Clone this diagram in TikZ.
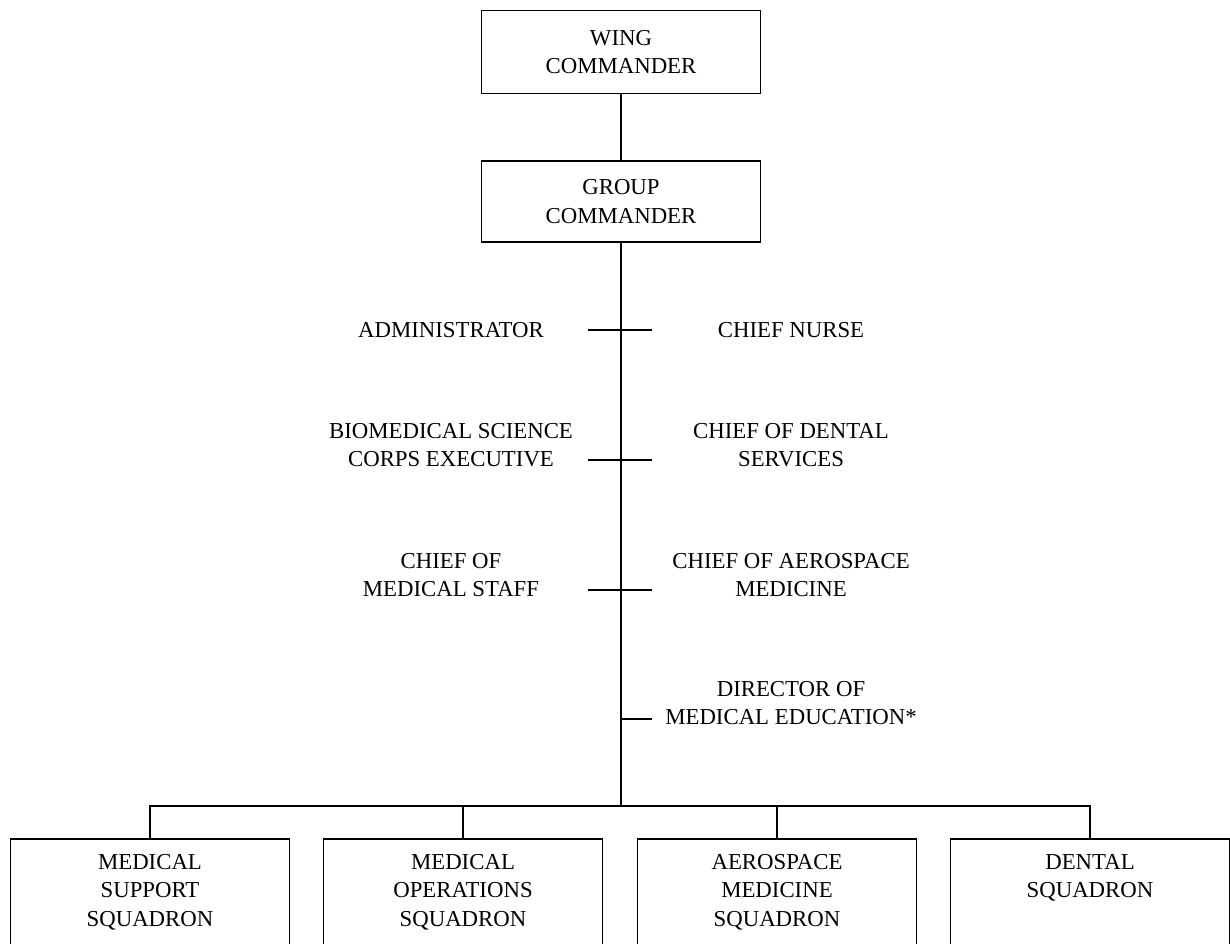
\documentclass[tikz,border=0pt]{standalone}
\usepackage{fontspec}
\setmainfont{Liberation Serif}
\usetikzlibrary{positioning}

\begin{document}
\begin{tikzpicture}[x=1pt,y=-1pt,line width=1.6pt,node distance=170pt,
    font=\fontsize{22.8}{28.5}\selectfont,
    cmd/.style={draw,minimum width=279pt,minimum height=83pt,align=center},
    staff/.style={align=center},
    squad/.style={draw,anchor=north,minimum width=279pt,minimum height=130pt},
    sqtext/.style={align=center,anchor=north}]
        \useasboundingbox (0,0) rectangle (1230,943);
        \clip (0,0) rectangle (1230,943);

        \node[cmd] (wing)                          at (621,52)    {WING\\COMMANDER};
        \node[cmd,minimum height=81pt] (group)     at (621,201.5) {GROUP\\COMMANDER};

        \coordinate (s1)  at (621,330);
        \coordinate (s2)  at (621,460);
        \coordinate (s3)  at (621,590);
        \coordinate (s4)  at (621,719);
        \coordinate (bus) at (621,806);

        \node[staff] (admin)  [left of=s1]             {ADMINISTRATOR};
        \node[staff] (nurse)  [right of=s1]            {CHIEF NURSE};
        \node[staff] (bsc)    [left of=s2,yshift=15pt]  {BIOMEDICAL SCIENCE\\CORPS EXECUTIVE};
        \node[staff] (dental) [right of=s2,yshift=15pt] {CHIEF OF DENTAL\\SERVICES};
        \node[staff] (mstaff) [left of=s3,yshift=15pt]  {CHIEF OF\\MEDICAL STAFF};
        \node[staff] (aero)   [right of=s3,yshift=15pt] {CHIEF OF AEROSPACE\\MEDICINE};
        \node[staff] (educ)   [right of=s4,yshift=16pt] {DIRECTOR OF\\MEDICAL EDUCATION*};

        \node[squad] (msq)  at (150,838)  {};
        \node[squad] (mosq) at (463,838)  {};
        \node[squad] (amsq) at (777,838)  {};
        \node[squad] (dsq)  at (1090,838) {};
        \node[sqtext] [below=12pt of msq.north]  {MEDICAL\\SUPPORT\\SQUADRON};
        \node[sqtext] [below=12pt of mosq.north] {MEDICAL\\OPERATIONS\\SQUADRON};
        \node[sqtext] [below=12pt of amsq.north] {AEROSPACE\\MEDICINE\\SQUADRON};
        \node[sqtext] [below=12pt of dsq.north]  {DENTAL\\SQUADRON};

        \draw (wing) -- (group);
        \draw (group) -- (bus);
        \foreach \s in {s1,s2,s3}
            \draw ([xshift=-33pt]\s) -- ([xshift=31pt]\s);
        \draw (s4) -- ([xshift=31pt]s4);
        \draw (bus) -| (msq.north);
        \draw (bus) -| (mosq.north);
        \draw (bus) -| (amsq.north);
        \draw (bus) -| (dsq.north);
    \end{tikzpicture}
\end{document}
